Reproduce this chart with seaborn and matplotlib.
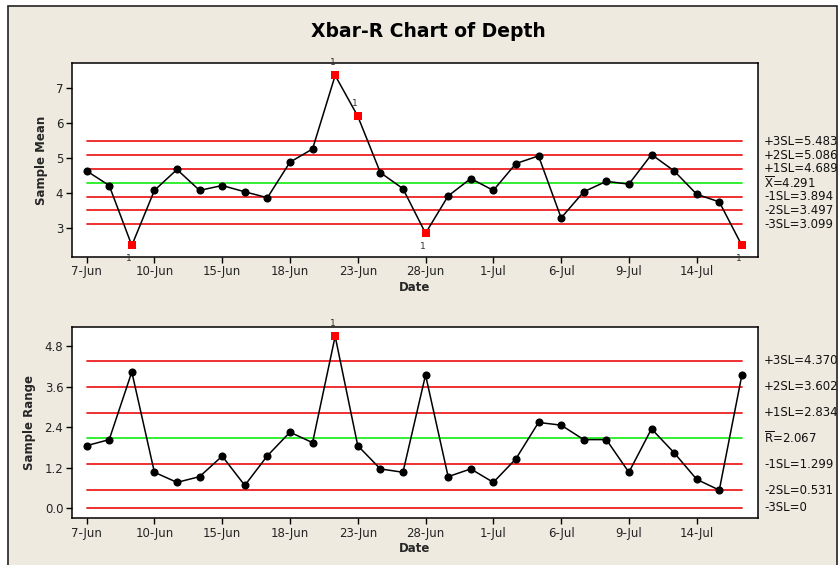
import matplotlib
matplotlib.use("Agg")
import matplotlib.pyplot as plt
import numpy as np
import pandas as pd
import seaborn as sns
from matplotlib.patches import Rectangle

# Subgroup statistics (subgroup size 5), one per sample
sample_mean = [4.63, 4.21, 2.49, 4.07, 4.67, 4.07, 4.21, 4.03, 3.86, 4.88,
               5.26, 7.37, 6.20, 4.58, 4.12, 2.84, 3.91, 4.41, 4.07, 4.84,
               5.06, 3.28, 4.03, 4.33, 4.25, 5.10, 4.63, 3.96, 3.74, 2.49]
sample_range = [1.85, 2.03, 4.04, 1.06, 0.76, 0.93, 1.54, 0.67, 1.55, 2.25,
                1.94, 5.10, 1.85, 1.16, 1.06, 3.95, 0.93, 1.16, 0.76, 1.46,
                2.54, 2.46, 2.03, 2.03, 1.06, 2.35, 1.64, 0.85, 0.53, 3.95]

# Date labels shown on every third sample
date_labels = ["7-Jun", "10-Jun", "15-Jun", "18-Jun", "23-Jun",
               "28-Jun", "1-Jul", "6-Jul", "9-Jul", "14-Jul"]
date_positions = list(range(0, 30, 3))

# Sigma limits
xbar_limits = [("+3SL", 5.483), ("+2SL", 5.086), ("+1SL", 4.689), ("CL", 4.291),
               ("-1SL", 3.894), ("-2SL", 3.497), ("-3SL", 3.099)]
r_limits = [("+3SL", 4.370), ("+2SL", 3.602), ("+1SL", 2.834), ("CL", 2.067),
            ("-1SL", 1.299), ("-2SL", 0.531), ("-3SL", 0.0)]

mean_ticks = [3, 4, 5, 6, 7]
range_ticks = [0.0, 1.2, 2.4, 3.6, 4.8]

BG = "#EEEAE0"
sns.set_style("ticks")
plt.rcParams["font.family"] = ["DejaVu Sans"]
plt.rcParams["mathtext.fontset"] = "dejavusans"

W, H = 839, 565
fig = plt.figure(figsize=(W / 100, H / 100), dpi=100, facecolor="white")
fig.patches.append(Rectangle((8 / W, -0.01), (837 - 8) / W, 1 - 6 / H + 0.01,
                             transform=fig.transFigure, facecolor=BG,
                             edgecolor="#222222", linewidth=1.2, zorder=-10))


def px_axes(left, top, right, bottom):
    return fig.add_axes([left / W, 1 - bottom / H, (right - left) / W, (bottom - top) / H])


ax1 = px_axes(71.7, 63.3, 757.7, 256.7)
ax2 = px_axes(71.7, 326.7, 757.7, 518.3)

n = len(sample_mean)
idx = np.arange(n)


def draw_chart(ax, values, limits, ylabel, yticks, ylim, fmt, center_sym, label_ys):
    df = pd.DataFrame({"sample": idx, "value": values})
    ax.set_facecolor("white")
    # control lines
    for name, val in limits:
        color = "#22EE22" if name == "CL" else "#EE2020"
        ax.plot([0, n - 1], [val, val], color=color, lw=1.3, zorder=1)
    ucl = limits[0][1]
    lcl = limits[-1][1]
    sns.lineplot(data=df, x="sample", y="value", ax=ax, color="black", lw=1.1,
                 zorder=2, legend=False)
    out = df[(df["value"] > ucl) | (df["value"] < lcl)]
    ok = df[~df.index.isin(out.index)]
    sns.scatterplot(data=ok, x="sample", y="value", ax=ax, color="black", s=34,
                    marker="o", edgecolor="black", linewidth=0, zorder=3, legend=False)
    sns.scatterplot(data=out, x="sample", y="value", ax=ax, color="#FF0000", s=40,
                    marker="s", edgecolor="#FF0000", linewidth=0, zorder=4, legend=False)
    for _, r in out.iterrows():
        above = r["value"] > ucl
        ax.annotate("1", (r["sample"], r["value"]), xytext=(-2, 6 if above else -6),
                    textcoords="offset points", ha="center",
                    va="bottom" if above else "top", fontsize=6.5, color="#333333")
    ax.set_xlim(-0.66, 29.7)
    ax.set_ylim(*ylim)
    ax.set_xticks(date_positions)
    ax.set_xticklabels(date_labels)
    ax.set_yticks(yticks)
    ax.set_yticklabels([fmt.format(t) for t in yticks])
    ax.tick_params(direction="out", length=4, width=1, color="black",
                   labelsize=8.5, labelcolor="#222222", pad=2)
    for s in ax.spines.values():
        s.set_visible(True)
        s.set_color("black")
        s.set_linewidth(1.1)
    ax.set_xlabel("Date", fontsize=8.5, fontweight="bold", labelpad=2)
    ax.set_ylabel(ylabel, fontsize=8.5, fontweight="bold", labelpad=6)
    # limit annotations to the right of the plot area
    for (name, val), ly in zip(limits, label_ys):
        if name == "CL":
            txt = r"$\overline{\mathrm{%s}}$=%s" % (center_sym, ("%.3f" % val))
        else:
            sval = "0" if val == 0 else "%.3f" % val
            txt = "%s=%s" % (name, sval)
        ax.text(764 / W, ly, txt, transform=fig.transFigure, fontsize=8.5,
                color="#111111", ha="left", va="center")


def data_to_fig_y(ax, v):
    fig.canvas.draw()
    return fig.transFigure.inverted().transform(ax.transData.transform((0, v)))[1]


ax1.set_ylim(2.167, 7.718)
ax2.set_ylim(-0.307, 5.384)
ys1 = [data_to_fig_y(ax1, v) for _, v in xbar_limits]
ys2 = [data_to_fig_y(ax2, v) for _, v in r_limits]

draw_chart(ax1, sample_mean, xbar_limits, "Sample Mean", mean_ticks, (2.167, 7.718),
           "{:g}", "X", ys1)
draw_chart(ax2, sample_range, r_limits, "Sample Range", range_ticks, (-0.307, 5.384),
           "{:.1f}", "R", ys2)

fig.text(428 / W, 1 - 31.5 / H, "Xbar-R Chart of Depth", ha="center", va="center",
         fontsize=13.5, fontweight="bold", color="black")

fig.savefig("out.png", dpi=100, facecolor=fig.get_facecolor())
